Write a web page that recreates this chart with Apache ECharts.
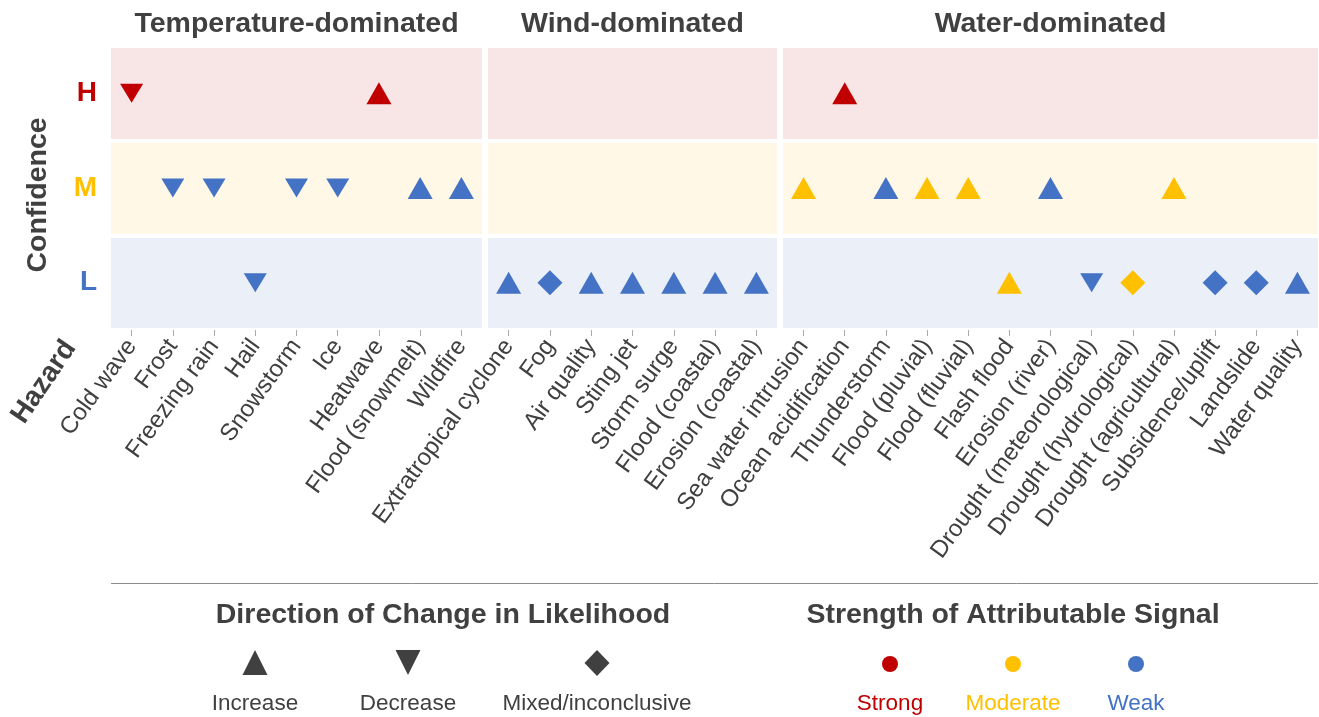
<!DOCTYPE html>
<html><head><meta charset="utf-8">
<script src="https://cdn.jsdelivr.net/npm/echarts@6/dist/echarts.min.js"></script>
<style>html,body{margin:0;padding:0;background:#fff}#c{width:1319px;height:717px}</style>
</head><body><div id="c"></div>
<script>
const groupNames = ['Temperature-dominated', 'Wind-dominated', 'Water-dominated'];
const confidenceLevels = ['L', 'M', 'H'];

const tempHazards = ['Cold wave', 'Frost', 'Freezing rain', 'Hail', 'Snowstorm', 'Ice', 'Heatwave', 'Flood (snowmelt)', 'Wildfire'];
const tempConfidence = ['H', 'M', 'M', 'L', 'M', 'M', 'H', 'M', 'M'];
const tempDirection = ['down', 'down', 'down', 'down', 'down', 'down', 'up', 'up', 'up'];
const tempStrength = ['strong', 'weak', 'weak', 'weak', 'weak', 'weak', 'strong', 'weak', 'weak'];

const windHazards = ['Extratropical cyclone', 'Fog', 'Air quality', 'Sting jet', 'Storm surge', 'Flood (coastal)', 'Erosion (coastal)'];
const windConfidence = ['L', 'L', 'L', 'L', 'L', 'L', 'L'];
const windDirection = ['up', 'mixed', 'up', 'up', 'up', 'up', 'up'];
const windStrength = ['weak', 'weak', 'weak', 'weak', 'weak', 'weak', 'weak'];

const waterHazards = ['Sea water intrusion', 'Ocean acidification', 'Thunderstorm', 'Flood (pluvial)', 'Flood (fluvial)', 'Flash flood', 'Erosion (river)', 'Drought (meteorological)', 'Drought (hydrological)', 'Drought (agricultural)', 'Subsidence/uplift', 'Landslide', 'Water quality'];
const waterConfidence = ['M', 'H', 'M', 'M', 'M', 'L', 'M', 'L', 'L', 'M', 'L', 'L', 'L'];
const waterDirection = ['up', 'up', 'up', 'up', 'up', 'up', 'up', 'down', 'mixed', 'up', 'mixed', 'mixed', 'up'];
const waterStrength = ['moderate', 'strong', 'weak', 'moderate', 'moderate', 'moderate', 'weak', 'weak', 'moderate', 'moderate', 'weak', 'weak', 'weak'];

const directionLabels = ['Increase', 'Decrease', 'Mixed/inconclusive'];
const strengthLabels = ['Strong', 'Moderate', 'Weak'];

// ---- styles ----
const FONT = '"Liberation Sans", Arial, Helvetica, sans-serif';
const TXT = '#404040';
const strengthColor = { strong: '#C00000', moderate: '#FFC000', weak: '#4472C4' };
const confColor = { H: '#C00000', M: '#FFC000', L: '#4472C4' };
const bandColors = ['#EBEFF8', '#FFF8E7', '#F8E5E6']; // L, M, H
const symbolStyle = {
  up: { symbol: 'triangle', symbolSize: [25, 22], symbolRotate: 0 },
  down: { symbol: 'triangle', symbolSize: [23, 19], symbolRotate: 180 },
  mixed: { symbol: 'diamond', symbolSize: [25, 25], symbolRotate: 0 }
};

const groups = [
  { hazards: tempHazards, conf: tempConfidence, dir: tempDirection, str: tempStrength },
  { hazards: windHazards, conf: windConfidence, dir: windDirection, str: windStrength },
  { hazards: waterHazards, conf: waterConfidence, dir: waterDirection, str: waterStrength }
];
const gridLayout = [
  { left: 111, width: 371 },
  { left: 488, width: 289 },
  { left: 783, width: 535 }
];
const GRID_TOP = 46, GRID_H = 284;

const grids = [], xAxes = [], yAxes = [], series = [];
groups.forEach((g, gi) => {
  grids.push({ left: gridLayout[gi].left, width: gridLayout[gi].width, top: GRID_TOP, height: GRID_H, containLabel: false });
  xAxes.push({
    type: 'category', gridIndex: gi, data: g.hazards,
    axisLine: { show: false },
    axisTick: { show: true, alignWithLabel: true, length: 6, lineStyle: { color: '#aaaaaa', width: 1 } },
    axisLabel: { interval: 0, rotate: 54, fontSize: 24, color: TXT, fontFamily: FONT, margin: 12 },
    splitLine: { show: false }
  });
  yAxes.push({
    type: 'category', gridIndex: gi, data: confidenceLevels,
    axisLine: { show: false }, axisTick: { show: false },
    splitArea: { show: true, areaStyle: { color: bandColors } },
    splitLine: { show: true, lineStyle: { color: '#ffffff', width: 4 } },
    axisLabel: gi === 0 ? {
      show: true, margin: 14, fontFamily: FONT, fontSize: 28, fontWeight: 'bold',
      formatter: v => '{' + v + '|' + v + '}',
      rich: {
        H: { color: confColor.H, fontSize: 28, fontWeight: 'bold', fontFamily: FONT },
        M: { color: confColor.M, fontSize: 28, fontWeight: 'bold', fontFamily: FONT },
        L: { color: confColor.L, fontSize: 28, fontWeight: 'bold', fontFamily: FONT }
      }
    } : { show: false }
  });
  series.push({
    type: 'scatter', xAxisIndex: gi, yAxisIndex: gi,
    data: g.hazards.map((h, i) => Object.assign({
      value: [h, g.conf[i]],
      itemStyle: { color: strengthColor[g.str[i]], opacity: 1 }
    }, symbolStyle[g.dir[i]])),
    itemStyle: { opacity: 1 },
    emphasis: { disabled: true }, silent: true
  });
});

const graphic = [];
groupNames.forEach((n, gi) => {
  graphic.push({ type: 'text', x: gridLayout[gi].left + gridLayout[gi].width / 2, y: 24,
    style: { text: n, font: 'bold 28.5px ' + FONT, fill: TXT, textAlign: 'center', textVerticalAlign: 'middle' } });
});
graphic.push({ type: 'text', x: 38, y: 195, rotation: Math.PI / 2,
  style: { text: 'Confidence', font: 'bold 28.5px ' + FONT, fill: TXT, textAlign: 'center', textVerticalAlign: 'middle' } });
graphic.push({ type: 'text', x: 44, y: 382, rotation: 56 * Math.PI / 180,
  style: { text: 'Hazard', font: 'bold 28px ' + FONT, fill: TXT, textAlign: 'center', textVerticalAlign: 'middle' } });
graphic.push({ type: 'line', shape: { x1: 111, y1: 583.5, x2: 1318, y2: 583.5 }, style: { stroke: '#8c8c8c', lineWidth: 1 } });
// legend: direction
graphic.push({ type: 'text', x: 443, y: 615, style: { text: 'Direction of Change in Likelihood', font: 'bold 28.5px ' + FONT, fill: TXT, textAlign: 'center', textVerticalAlign: 'middle' } });
const dirX = [255, 408, 597];
graphic.push({ type: 'polygon', shape: { points: [[dirX[0], 650], [dirX[0] + 12.5, 675], [dirX[0] - 12.5, 675]] }, style: { fill: TXT } });
graphic.push({ type: 'polygon', shape: { points: [[dirX[1] - 12.5, 650], [dirX[1] + 12.5, 650], [dirX[1], 675]] }, style: { fill: TXT } });
graphic.push({ type: 'polygon', shape: { points: [[dirX[2], 650], [dirX[2] + 12.5, 663], [dirX[2], 676], [dirX[2] - 12.5, 663]] }, style: { fill: TXT } });
directionLabels.forEach((t, i) => graphic.push({ type: 'text', x: dirX[i], y: 704,
  style: { text: t, font: '22.5px ' + FONT, fill: TXT, textAlign: 'center', textVerticalAlign: 'middle' } }));
// legend: strength
graphic.push({ type: 'text', x: 1013, y: 615, style: { text: 'Strength of Attributable Signal', font: 'bold 28.5px ' + FONT, fill: TXT, textAlign: 'center', textVerticalAlign: 'middle' } });
const strX = [890, 1013, 1136];
const strKeys = ['strong', 'moderate', 'weak'];
strKeys.forEach((k, i) => {
  graphic.push({ type: 'circle', shape: { cx: strX[i], cy: 664, r: 8 }, style: { fill: strengthColor[k] } });
  graphic.push({ type: 'text', x: strX[i], y: 704, style: { text: strengthLabels[i], font: '22.5px ' + FONT, fill: strengthColor[k], textAlign: 'center', textVerticalAlign: 'middle' } });
});

const chart = echarts.init(document.getElementById('c'), null, { renderer: 'canvas' });
chart.setOption({
  animation: false,
  backgroundColor: '#ffffff',
  textStyle: { fontFamily: FONT },
  grid: grids, xAxis: xAxes, yAxis: yAxes, series: series, graphic: graphic
});
</script></body></html>
